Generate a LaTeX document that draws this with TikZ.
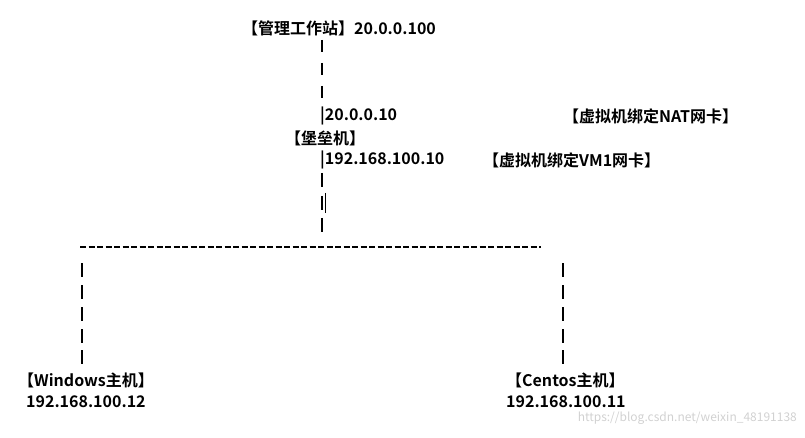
\documentclass[tikz,border=0pt]{standalone}
\usepackage{fontspec}
\setmainfont{Noto Sans CJK SC}[BoldFont={Noto Sans CJK SC Bold}]
\begin{document}
\begin{tikzpicture}[x=1pt,y=-1pt,
  t/.style={anchor=west,inner sep=0pt,font=\fontsize{16}{18}\selectfont\bfseries},
  bar/.style={line width=1.3pt}]
\useasboundingbox (0,0) rectangle (805,438);
\node[t] (gl) at (242,28) {【管理工作站】20.0.0.100};
\foreach \y [count=\i] in {40,63,86}{\draw[bar] (322,\y) -- (322,\y+12);}
\node[t] (a1) at (320,116) {|20.0.0.10};
\node[t] (bl) at (285,138) {【堡垒机】};
\node[t] (a2) at (320,160) {|192.168.100.10};
\foreach \y in {173,196,218}{\draw[bar] (322,\y) -- (322,\y+14);}
\draw[line width=0.6pt] (325,193) -- (325,213);
\node[t] (nat) at (563,116) {【虚拟机绑定NAT网卡】};
\node[t] (vm1) at (483,160) {【虚拟机绑定VM1网卡】};
\coordinate (dl) at (80,247);
\coordinate (dr) at (541,247);
\draw[line width=1.4pt,dash pattern=on 6pt off 2.5pt] (dl) -- (dr);
\foreach \y in {263,285,307,329,350}{
  \draw[bar] (82,\y) -- (82,\y+14);
  \draw[bar] (563,\y) -- (563,\y+14);}
\node[t] (w) at (18,380) {【Windows主机】};
\node[t] (wip) at (26,402) {192.168.100.12};
\node[t] (c) at (506,380) {【Centos主机】};
\node[t] (cip) at (506,402) {192.168.100.11};
\node[anchor=east,inner sep=0pt,font=\fontsize{12}{14}\selectfont,text=black!18] (wm) at (797,418) {https://blog.csdn.net/weixin\_48191138};
\end{tikzpicture}
\end{document}
